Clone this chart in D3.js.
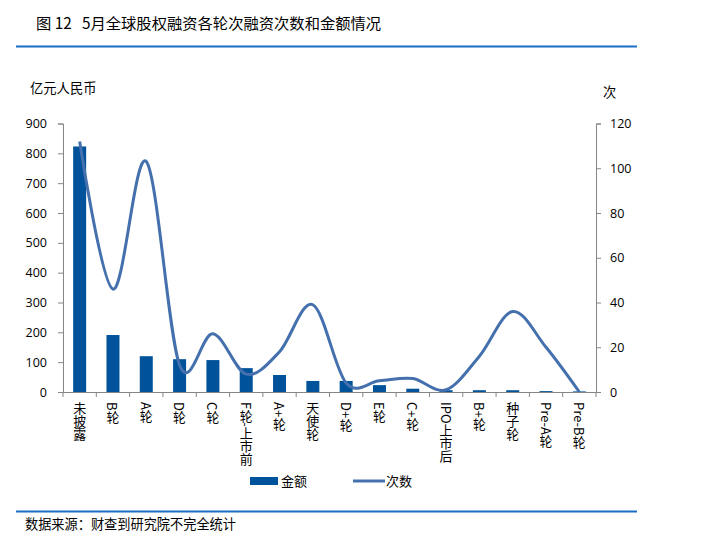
<!DOCTYPE html>
<html>
<head>
<meta charset="utf-8">
<script src="https://cdn.jsdelivr.net/npm/d3@7"></script>
<style>
  body { margin: 0; background: #fff; }
  svg { display: block; font-family: "Noto Sans CJK SC", "Noto Sans", sans-serif; }
</style>
</head>
<body>
<svg id="chart" width="702" height="553"></svg>
<script>
// categories (rounds)
var categories = ["未披露", "B轮", "A轮", "D轮", "C轮", "F轮-上市前", "A+轮", "天使轮",
    "D+轮", "E轮", "C+轮", "IPO上市后", "B+轮", "种子轮", "Pre-A轮", "Pre-B轮"];
// amount, 100 million RMB
var amounts = [823, 191, 120, 110, 107, 80, 57, 37, 37, 23, 11, 6, 6, 6, 3, 2];
// number of deals
var counts = [112, 46, 103, 12, 26, 8, 18, 39, 4, 5, 6, 1, 16, 36, 20, 0];
var leftTicks = [0, 100, 200, 300, 400, 500, 600, 700, 800, 900];
var rightTicks = [0, 20, 40, 60, 80, 100, 120];

var svg = d3.select("#chart");
var plotLeft = 63, plotRight = 596, plotTop = 123.5, plotBottom = 392;

var axisColor = "#868686";
var barColor = "#00539b";
var lineColor = "#4470ad";

//title
svg.append("text")
    .attr("x", 36).attr("y", 29)
    .attr("font-size", 15.3)
    .attr("fill", "#000")
    .style("white-space", "pre")
    .text("图 12   5月全球股权融资各轮次融资次数和金额情况");

svg.append("line")
    .attr("x1", 16).attr("x2", 637).attr("y1", 46.5).attr("y2", 46.5)
    .attr("stroke", "#1a6fc6").attr("stroke-width", 2.2);

// unit labels
svg.append("text").attr("x", 30).attr("y", 93).attr("font-size", 13.3).text("亿元人民币");
svg.append("text").attr("x", 603).attr("y", 97).attr("font-size", 13.3).text("次");

var x = d3.scaleBand().domain(categories).range([plotLeft, plotRight]);
var yL = d3.scaleLinear().domain([0, 900]).range([plotBottom, plotTop]);
var yR = d3.scaleLinear().domain([0, 120]).range([plotBottom, plotTop]);

// left axis
var gL = svg.append("g").attr("transform", "translate(" + plotLeft + ",0)")
    .call(d3.axisLeft(yL).tickValues(leftTicks).tickSize(5).tickPadding(11));
// right axis
var gR = svg.append("g").attr("transform", "translate(" + plotRight + ",0)")
    .call(d3.axisRight(yR).tickValues(rightTicks).tickSize(5).tickPadding(9));

[gL, gR].forEach(function(g) {
    g.select(".domain").attr("stroke", axisColor);
    g.selectAll(".tick line").attr("stroke", axisColor);
    g.selectAll(".tick text").attr("font-size", 12.5).attr("fill", "#000")
        .attr("font-family", "'Open Sans', 'Noto Sans', sans-serif");
});

// x axis with ticks between categories
var gX = svg.append("g");
gX.append("line")
    .attr("x1", plotLeft).attr("x2", plotRight).attr("y1", plotBottom + 0.5).attr("y2", plotBottom + 0.5)
    .attr("stroke", axisColor);
gX.selectAll(".xt")
    .data(categories)
    .enter().append("line")
    .attr("x1", function(d) { return x(d); })
    .attr("x2", function(d) { return x(d); })
    .attr("y1", plotBottom).attr("y2", plotBottom + 5)
    .attr("stroke", axisColor);
gX.append("line")
    .attr("x1", plotRight).attr("x2", plotRight).attr("y1", plotBottom).attr("y2", plotBottom + 5)
    .attr("stroke", axisColor);

// vertical category labels
gX.selectAll(".xl")
    .data(categories)
    .enter().append("text")
    .attr("x", function(d) { return x(d) + x.bandwidth() / 2; })
    .attr("y", plotBottom + 10)
    .attr("font-size", 13)
    .attr("fill", "#000")
    .style("writing-mode", "vertical-rl")
    .style("text-orientation", "mixed")
    .text(function(d) { return d; });

// bars
var bw = 13;
svg.selectAll(".bar")
    .data(amounts)
    .enter().append("rect")
    .attr("x", function(d, i) { return x(categories[i]) + x.bandwidth() / 2 - bw / 2; })
    .attr("y", function(d) { return yL(d); })
    .attr("width", bw)
    .attr("height", function(d) { return plotBottom - yL(d); })
    .attr("fill", barColor);

// smoothed count line
var line = d3.line()
    .x(function(d, i) { return x(categories[i]) + x.bandwidth() / 2; })
    .y(function(d) { return yR(d); })
    .curve(d3.curveCardinal.tension(0));

svg.append("path")
    .datum(counts)
    .attr("fill", "none")
    .attr("stroke", lineColor)
    .attr("stroke-width", 3)
    .attr("stroke-linejoin", "round")
    .attr("d", line);

// legend
svg.append("rect").attr("x", 250).attr("y", 477).attr("width", 28).attr("height", 8).attr("fill", barColor);
svg.append("text").attr("x", 281).attr("y", 486).attr("font-size", 13).text("金额");
svg.append("line").attr("x1", 353).attr("x2", 385).attr("y1", 481).attr("y2", 481)
    .attr("stroke", lineColor).attr("stroke-width", 3);
svg.append("text").attr("x", 386).attr("y", 486).attr("font-size", 13).text("次数");

// bottom rule and source
svg.append("line")
    .attr("x1", 16).attr("x2", 637).attr("y1", 511.5).attr("y2", 511.5)
    .attr("stroke", "#1a6fc6").attr("stroke-width", 2.2);
svg.append("text").attr("x", 25).attr("y", 529).attr("font-size", 13.2).text("数据来源：财查到研究院不完全统计");
</script>
</body>
</html>
